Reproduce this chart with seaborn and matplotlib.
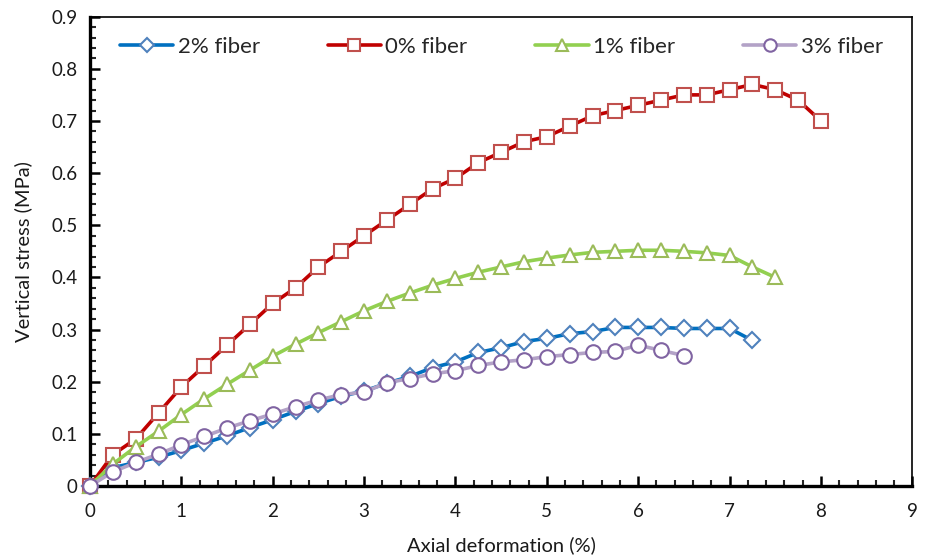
import matplotlib
matplotlib.use("Agg")
import matplotlib.pyplot as plt
from matplotlib.ticker import MultipleLocator
import seaborn as sns
import pandas as pd
import numpy as np

# ---- data ----
x_red = [0, 0.25, 0.5, 0.75, 1, 1.25, 1.5, 1.75, 2, 2.25, 2.5, 2.75, 3, 3.25, 3.5, 3.75,
         4, 4.25, 4.5, 4.75, 5, 5.25, 5.5, 5.75, 6, 6.25, 6.5, 6.75, 7, 7.25, 7.5, 7.75, 8]
y_red = [0, 0.06, 0.09, 0.14, 0.19, 0.23, 0.27, 0.31, 0.35, 0.38, 0.42, 0.45, 0.48, 0.51,
         0.54, 0.57, 0.59, 0.62, 0.64, 0.66, 0.67, 0.69, 0.71, 0.72, 0.73, 0.74, 0.75, 0.75,
         0.76, 0.77, 0.76, 0.74, 0.70]

x_green = [0, 0.25, 0.5, 0.75, 1, 1.25, 1.5, 1.75, 2, 2.25, 2.5, 2.75, 3, 3.25, 3.5, 3.75,
           4, 4.25, 4.5, 4.75, 5, 5.25, 5.5, 5.75, 6, 6.25, 6.5, 6.75, 7, 7.25, 7.5]
y_green = [0, 0.042, 0.075, 0.105, 0.137, 0.167, 0.195, 0.222, 0.249, 0.272, 0.294, 0.315,
           0.336, 0.354, 0.37, 0.385, 0.398, 0.41, 0.42, 0.43, 0.437, 0.443, 0.448, 0.45,
           0.452, 0.452, 0.45, 0.447, 0.442, 0.42, 0.40]

x_blue = [0, 0.25, 0.5, 0.75, 1, 1.25, 1.5, 1.75, 2, 2.25, 2.5, 2.75, 3, 3.25, 3.5, 3.75,
          4, 4.25, 4.5, 4.75, 5, 5.25, 5.5, 5.75, 6, 6.25, 6.5, 6.75, 7, 7.25]
y_blue = [0, 0.035, 0.045, 0.055, 0.068, 0.082, 0.096, 0.112, 0.127, 0.143, 0.158, 0.172,
          0.182, 0.197, 0.21, 0.227, 0.238, 0.256, 0.265, 0.277, 0.283, 0.292, 0.296, 0.304,
          0.304, 0.304, 0.302, 0.302, 0.302, 0.279]

x_purple = [0, 0.25, 0.5, 0.75, 1, 1.25, 1.5, 1.75, 2, 2.25, 2.5, 2.75, 3, 3.25, 3.5, 3.75,
            4, 4.25, 4.5, 4.75, 5, 5.25, 5.5, 5.75, 6, 6.25, 6.5]
y_purple = [0, 0.027, 0.045, 0.061, 0.079, 0.095, 0.111, 0.125, 0.138, 0.152, 0.165, 0.175,
            0.18, 0.198, 0.206, 0.215, 0.221, 0.231, 0.238, 0.242, 0.248, 0.252, 0.256,
            0.258, 0.27, 0.26, 0.25]

labels = ["2% fiber", "0% fiber", "1% fiber", "3% fiber"]

sns.set_theme(style="white")
plt.rcParams['font.family'] = ['Lato', 'DejaVu Sans']

fig = plt.figure(figsize=(9.25, 5.56), dpi=100)
ax = fig.add_axes([0.0973, 0.126, 0.889, 0.844])

series = [
    (x_blue, y_blue, labels[0], "#0070C0", "#4F81BD", "D", 8),
    (x_red, y_red, labels[1], "#C00000", "#C0504D", "s", 10.5),
    (x_green, y_green, labels[2], "#92D050", "#9BBB59", "^", 10.5),
    (x_purple, y_purple, labels[3], "#B3A2C7", "#8064A2", "o", 10.5),
]

for xs, ys, lab, lc, mc, mk, ms in series:
    df = pd.DataFrame({"x": xs, "y": ys})
    sns.lineplot(data=df, x="x", y="y", ax=ax, color=lc, linewidth=2.6, label=lab,
                 marker=mk, markersize=ms, markerfacecolor="white", markeredgecolor=mc,
                 markeredgewidth=1.5, sort=False, clip_on=False, zorder=3)

ax.set_xlim(0, 9)
ax.set_ylim(0, 0.9)
ax.xaxis.set_major_locator(MultipleLocator(1))
ax.xaxis.set_minor_locator(MultipleLocator(0.2))
ax.yaxis.set_major_locator(MultipleLocator(0.1))
ax.yaxis.set_minor_locator(MultipleLocator(0.02))
ax.set_yticks(np.arange(0, 0.91, 0.1))
ax.set_yticklabels(["0"] + [f"{v:.1f}" for v in np.arange(0.1, 0.91, 0.1)])

ax.tick_params(axis="both", which="major", direction="in", length=7, width=1.8,
               labelsize=13.5, colors="black", bottom=True, left=True)
ax.tick_params(axis="x", which="major", pad=12)
ax.tick_params(axis="y", which="major", pad=9)
ax.tick_params(axis="both", which="minor", direction="in", length=4, width=1.5,
               bottom=True, left=True)
ax.tick_params(axis="both", labelcolor="#1a1a1a")

for s in ["left", "bottom"]:
    ax.spines[s].set_linewidth(2.4)
    ax.spines[s].set_color("black")
for s in ["top", "right"]:
    ax.spines[s].set_linewidth(1.2)
    ax.spines[s].set_color("black")
    ax.spines[s].set_visible(True)

ax.set_xlabel("Axial deformation (%)", fontsize=14.5, color="#1a1a1a", labelpad=12)
ax.set_ylabel("Vertical stress (MPa)", fontsize=14.5, color="#1a1a1a", labelpad=14)

leg = ax.legend(loc="upper left", bbox_to_anchor=(0.012, 1.0), ncol=4, frameon=False,
                fontsize=16, handlelength=2.4, columnspacing=3.05, handletextpad=0.2,
                markerscale=0.85)

fig.savefig("out.png", dpi=100)
